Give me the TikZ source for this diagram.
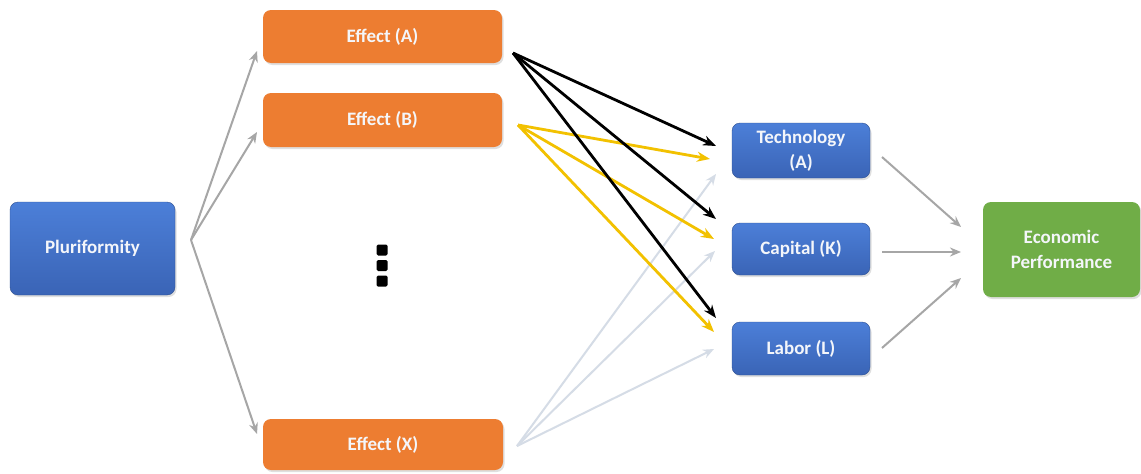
\documentclass[tikz,border=0pt]{standalone}
\usepackage{fontspec}
\setmainfont{Carlito}
\usetikzlibrary{arrows.meta,shadows}
\definecolor{orng}{HTML}{ED7D31}
\definecolor{blu}{HTML}{4472C4}
\definecolor{bluT}{HTML}{4C7FD8}
\definecolor{bluB}{HTML}{3A64B6}
\definecolor{grn}{HTML}{70AD47}
\definecolor{arrg}{HTML}{A6A6A6}
\definecolor{ylw}{HTML}{F2C100}
\definecolor{lgt}{HTML}{D5DCE6}
\definecolor{txtw}{HTML}{F4F6FA}
\tikzset{
  box/.style={rounded corners=8pt, inner sep=0pt, align=center, text=txtw,
    font=\bfseries\fontsize{19}{25}\selectfont,
    drop shadow={shadow xshift=1.5pt, shadow yshift=-2pt, opacity=0.25, fill=gray}},
  effbox/.style={box, fill=orng},
  bluebox/.style={box, top color=bluT, bottom color=bluB, draw=bluB!80!black, line width=0.4pt},
  grnbox/.style={box, fill=grn},
  garr/.style={draw=arrg, line width=2pt, -{Stealth[length=11pt,width=9pt]}},
  barr/.style={draw=black, line width=2.8pt, -{Stealth[length=13pt,width=10pt]}},
  yarr/.style={draw=ylw, line width=2.8pt, -{Stealth[length=13pt,width=10pt]}},
  larr/.style={draw=lgt, line width=2pt, -{Stealth[length=11pt,width=9pt]}},
  dotsq/.style={fill=black, rounded corners=1.5pt, minimum size=11pt, inner sep=0pt}
}
\begin{document}
\begin{tikzpicture}[x=1pt,y=-1pt]
\useasboundingbox[fill=white] (0,0) rectangle (1141,474);
% nodes
\node[bluebox, minimum width=165pt, minimum height=93pt] (pluri) at (92.5,248.5) {Pluriformity};
\node[effbox, minimum width=239pt, minimum height=53pt] (effA) at (382.5,36.5) {Effect (A)};
\node[effbox, minimum width=239pt, minimum height=54pt] (effB) at (382.5,120) {Effect (B)};
\node[effbox, minimum width=240pt, minimum height=51pt] (effX) at (383,444.5) {Effect (X)};
\node[bluebox, minimum width=138pt, minimum height=55pt] (tech) at (801,150.5) {Technology\\(A)};
\node[bluebox, minimum width=138pt, minimum height=52pt] (cap) at (801,249) {Capital (K)};
\node[bluebox, minimum width=138pt, minimum height=53pt] (lab) at (801,348.5) {Labor (L)};
\node[grnbox, minimum width=157pt, minimum height=95pt] (econ) at (1061.5,249.5) {Economic\\Performance};
% dots
\node[dotsq] (d1) at (382,250) {};
\node[dotsq] (d2) at (382,265.5) {};
\node[dotsq] (d3) at (382,281) {};
% connector end points
\coordinate (pf) at (191,240);
\coordinate (pA) at (257,51);
\coordinate (pB) at (257,132);
\coordinate (pX) at (257,434);
\coordinate (sA) at (513,53);
\coordinate (sB) at (518,125);
\coordinate (sX) at (517,446);
\coordinate (tB) at (716,146);
\coordinate (tY) at (710,159);
\coordinate (tL) at (716,174);
\coordinate (cB) at (716,219);
\coordinate (cY) at (714,239);
\coordinate (cL) at (715,251);
\coordinate (lB) at (716,318);
\coordinate (lY) at (714,332);
\coordinate (lL) at (714,349);
\coordinate (oT) at (882,157);
\coordinate (oC) at (882,252);
\coordinate (oL) at (882,348);
\coordinate (eT) at (961,227);
\coordinate (eC) at (961,252);
\coordinate (eL) at (961,278);
% pluriformity fan
\draw[garr] (pf) -- (pA);
\draw[garr] (pf) -- (pB);
\draw[garr] (pf) -- (pX);
% light arrows from effect X
\draw[larr] (sX) -- (tL);
\draw[larr] (sX) -- (cL);
\draw[larr] (sX) -- (lL);
% yellow arrows from effect B
\draw[yarr] (sB) -- (tY);
\draw[yarr] (sB) -- (cY);
\draw[yarr] (sB) -- (lY);
% black arrows from effect A
\draw[barr] (sA) -- (tB);
\draw[barr] (sA) -- (cB);
\draw[barr] (sA) -- (lB);
% to economic performance
\draw[garr] (oT) -- (eT);
\draw[garr] (oC) -- (eC);
\draw[garr] (oL) -- (eL);
\end{tikzpicture}
\end{document}
